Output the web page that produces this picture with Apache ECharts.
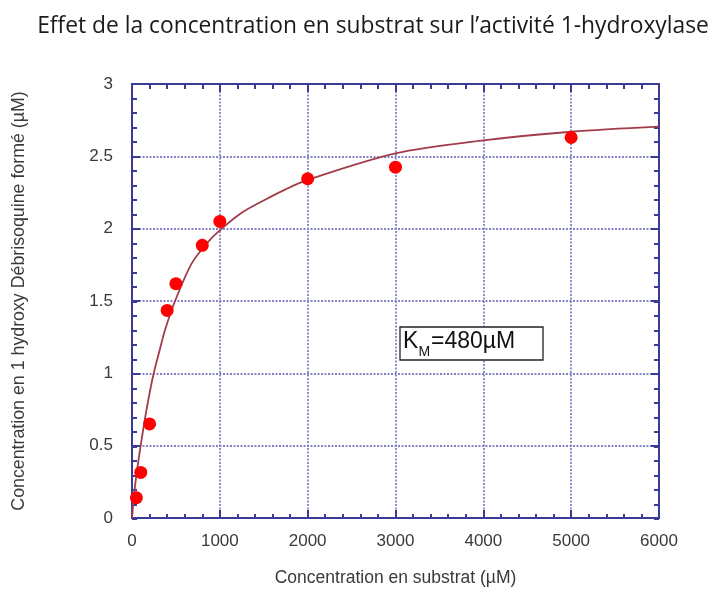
<!DOCTYPE html>
<html>
<head>
<meta charset="utf-8">
<script src="https://cdn.jsdelivr.net/npm/echarts@6/dist/echarts.min.js"></script>
<style>
  html, body { margin: 0; padding: 0; background: #ffffff; }
  #chart { width: 717px; height: 592px; }
</style>
</head>
<body>
<div id="chart"></div>
<script>
// Measured substrate concentrations (µM) and product formed (µM)
const substrate = [50, 100, 200, 400, 500, 800, 1000, 2000, 3000, 5000];
const product   = [0.14, 0.315, 0.65, 1.435, 1.62, 1.885, 2.05, 2.345, 2.425, 2.63];

// Fitted saturation curve, sampled along its path
const fitX = [0, 25, 53, 91, 160, 243, 319, 376, 490, 680, 869, 1002, 1249, 1515, 1743, 1990, 3000, 4000, 5000, 6000];
const fitY = [0, 0.17, 0.31, 0.47, 0.73, 0.99, 1.17, 1.30, 1.50, 1.76, 1.91, 1.99, 2.11, 2.20, 2.27, 2.335, 2.52, 2.61, 2.67, 2.705];

// Axis ranges and tick steps
const xMin = 0, xMax = 6000, xStep = 1000, xMinorStep = 200;
const yMin = 0, yMax = 3, yStep = 0.5, yMinorStep = 0.1;

const axisBlue = '#3b3b95';
const gridBlue = '#8484c4';
const labelGrey = '#3a3a3a';

const points = substrate.map((s, i) => [s, product[i]]);
const fit = fitX.map((s, i) => [s, fitY[i]]);

const chart = echarts.init(document.getElementById('chart'), null, { renderer: 'canvas' });

const plotRect = { left: 132, top: 84, right: 58, bottom: 73 };

// Frame axes: major ticks pointing inward on all four sides
function majorAxis(kind, pos, extra) {
  const isX = kind === 'x';
  return Object.assign({
    type: 'value', gridIndex: 0, position: pos,
    min: isX ? xMin : yMin, max: isX ? xMax : yMax, interval: isX ? xStep : yStep,
    axisLine: { show: true, onZero: false, lineStyle: { color: axisBlue, width: 2 } },
    axisTick: { show: true, inside: true, length: 8, lineStyle: { color: axisBlue, width: 2 } },
    axisLabel: { show: false },
    splitLine: { show: false }
  }, extra || {});
}
// Minor tick axes on an overlaid grid of the same size
function minorAxis(kind, pos) {
  const isX = kind === 'x';
  return {
    type: 'value', gridIndex: 1, position: pos,
    min: isX ? xMin : yMin, max: isX ? xMax : yMax, interval: isX ? xMinorStep : yMinorStep,
    axisLine: { show: false, onZero: false },
    axisTick: { show: true, inside: true, length: 5, lineStyle: { color: axisBlue, width: 2 } },
    axisLabel: { show: false },
    splitLine: { show: false }
  };
}

const labelStyle = { fontFamily: 'Liberation Sans', fontSize: 17, color: labelGrey };
const gridLine = { show: true, lineStyle: { color: gridBlue, type: [2, 1.5], width: 1.8 } };

chart.setOption({
  backgroundColor: '#ffffff',
  animation: false,
  title: {
    text: 'Effet de la concentration en substrat sur l’activité 1-hydroxylase',
    left: 368, top: 10, textAlign: 'center',
    textStyle: { fontFamily: 'Open Sans', fontWeight: 'normal', fontSize: 22.8, color: '#1a1a1a' }
  },
  grid: [Object.assign({}, plotRect), Object.assign({}, plotRect)],
  xAxis: [
    majorAxis('x', 'bottom', {
      name: 'Concentration en substrat (µM)',
      nameLocation: 'middle', nameGap: 51,
      nameTextStyle: { fontFamily: 'Liberation Sans', fontSize: 17.5, color: labelGrey },
      axisLabel: Object.assign({ show: true, margin: 15, formatter: v => String(v) }, labelStyle),
      splitLine: gridLine
    }),
    majorAxis('x', 'top'),
    minorAxis('x', 'bottom'),
    minorAxis('x', 'top')
  ],
  yAxis: [
    majorAxis('y', 'left', {
      name: 'Concentration en 1 hydroxy Débrisoquine formé (µM)',
      nameLocation: 'middle', nameGap: 104, nameRotate: 90,
      nameTextStyle: { fontFamily: 'Liberation Sans', fontSize: 17.8, color: labelGrey },
      axisLabel: Object.assign({ show: true, margin: 19, formatter: v => String(v) }, labelStyle),
      splitLine: gridLine
    }),
    majorAxis('y', 'right'),
    minorAxis('y', 'left'),
    minorAxis('y', 'right')
  ],
  series: [
    {
      name: 'Ajustement',
      type: 'line',
      xAxisIndex: 0, yAxisIndex: 0,
      data: fit,
      smooth: 0.3,
      showSymbol: false,
      lineStyle: { color: '#a23c4a', width: 1.8 },
      z: 3
    },
    {
      name: 'Mesures',
      type: 'scatter',
      xAxisIndex: 0, yAxisIndex: 0,
      data: points,
      symbol: 'circle',
      symbolSize: 13,
      itemStyle: { color: '#ff0000', opacity: 1 },
      z: 4
    }
  ],
  graphic: [
    {
      type: 'rect',
      shape: { x: 400, y: 327, width: 143, height: 33 },
      style: { fill: '#ffffff', stroke: '#222222', lineWidth: 1.3 },
      z: 10
    },
    {
      type: 'text', x: 403, y: 342,
      style: { text: 'K', font: '23px "Liberation Sans"', fill: '#111111', textVerticalAlign: 'middle' },
      z: 11
    },
    {
      type: 'text', x: 418.5, y: 352,
      style: { text: 'M', font: '14px "Liberation Sans"', fill: '#111111', textVerticalAlign: 'middle' },
      z: 11
    },
    {
      type: 'text', x: 431, y: 342,
      style: { text: '=480µM', font: '23px "Liberation Sans"', fill: '#111111', textVerticalAlign: 'middle' },
      z: 11
    }
  ]
});
</script>
</body>
</html>
